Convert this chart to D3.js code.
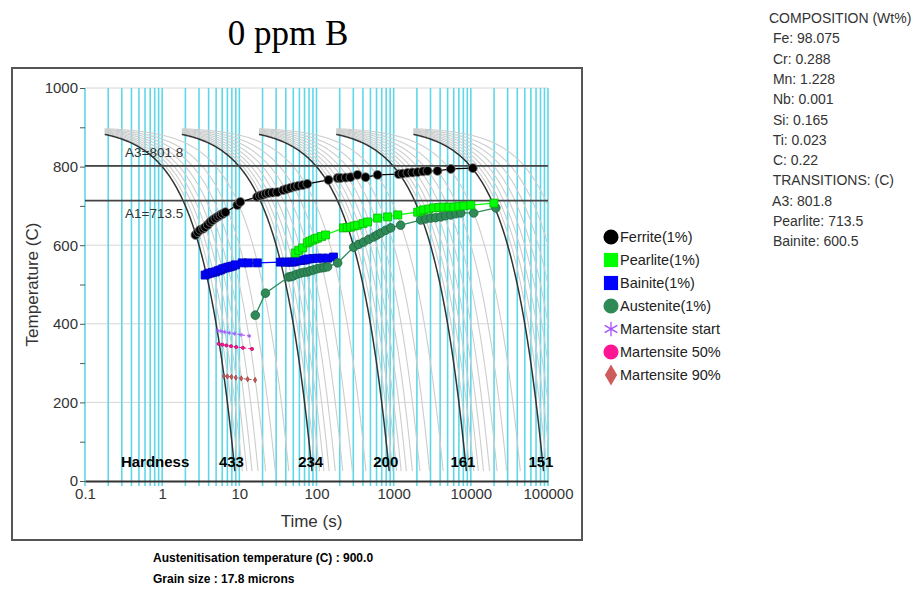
<!DOCTYPE html>
<html>
<head>
<meta charset="utf-8">
<script src="https://cdn.jsdelivr.net/npm/d3@7"></script>
<style>
  body { margin: 0; background: #fff; }
  svg { display: block; }
  text { font-family: "Liberation Sans", Arial, sans-serif; }
</style>
</head>
<body>
<div id="chart"></div>
<script>
// ---- data ----
const austTemp = 900;
const ambientTemp = 25;
const coolingRates = [100, 10, 1, 0.1, 0.01];          // bold curves, C/s
const rateSteps = [1, 0.9, 0.8, 0.7, 0.6, 0.5, 0.4, 0.3, 0.2];
const curveStartTimes = [0.18, 1.8, 18, 180, 1800];

const xTickLabels = [0.1, 1, 10, 100, 1000, 10000, 100000];
const yTickValues = [0, 100, 200, 300, 400, 500, 600, 700, 800, 900, 1000];

const a3Temp = 801.8;
const a1Temp = 713.5;

const ferriteTime = [2.7, 2.9, 3.1, 3.4, 3.6, 3.9, 4.2, 4.5, 4.9, 5.3, 5.7, 6.1, 6.6, 9.4, 10.3, 17, 18.5, 20, 22, 24, 27, 31, 37, 41, 46, 52, 58, 66, 76, 143, 188, 205, 240, 276, 340, 432, 619, 1160, 1300, 1510, 1750, 2040, 2400, 2750, 3700, 5500, 10600];
const ferriteTemp = [626, 633, 639, 642, 646, 652, 659, 664, 669, 673, 677, 680, 684, 702, 710, 723, 726, 728, 731, 733, 734, 735, 740, 743, 746, 749, 751, 753, 756, 766, 771, 771, 772, 773, 779, 773, 779, 781, 782, 784, 785, 786, 788, 789, 789, 794, 796];

const pearliteTime = [53, 59, 66, 76, 82, 89, 96, 103, 116, 131, 224, 250, 277, 310, 341, 400, 459, 619, 835, 1130, 2050, 2250, 2450, 2850, 3310, 3850, 4460, 5200, 6020, 7000, 8120, 10000, 19900];
const pearliteTemp = [580, 587, 593, 606, 610, 613, 616, 618, 622, 626, 644, 645, 646, 649, 651, 655, 659, 669, 672, 677, 684, 687, 690, 692, 695, 696, 697, 697, 697, 699, 700, 702, 707];

const bainiteTime = [3.6, 3.9, 4.2, 4.5, 4.9, 5.3, 5.7, 6.1, 6.6, 7.1, 7.6, 8.2, 8.9, 10.9, 13.1, 17.1, 34, 39.5, 44, 48.7, 52, 56.6, 62, 67.7, 73, 78.7, 90, 103, 120, 139, 166];
const bainiteTemp = [524, 527, 529, 531, 532, 535, 537, 540, 542, 544, 545, 547, 550, 555, 555, 555, 557, 557, 557, 557, 558, 560, 561, 562, 563, 565, 566, 567, 567, 567, 570];

const austeniteTime = [16.1, 21.8, 43.3, 46.5, 50.2, 55.5, 62, 69, 76.4, 83, 91.4, 102, 113, 125, 139, 188, 303, 350, 408, 475, 550, 610, 678, 790, 915, 1230, 2240, 2600, 3030, 3500, 4080, 4700, 5500, 6400, 7410, 10900, 21100];
const austeniteTemp = [422, 478, 519, 520, 522, 526, 529, 531, 532, 535, 537, 540, 542, 543, 545, 555, 595, 602, 608, 615, 621, 626, 631, 638, 644, 651, 664, 667, 669, 670, 672, 675, 677, 680, 682, 682, 695];

const msTime = [5.2, 5.8, 6.5, 7.4, 8.7, 10.5, 13.5];
const msTemp = [383, 381, 379, 377, 375, 372, 369];
const m50Time = [5.4, 6.0, 6.8, 7.8, 9.1, 11.1, 14.6];
const m50Temp = [349, 347, 345, 343, 341, 339, 336];
const m90Time = [6.3, 7.0, 7.9, 9.0, 10.6, 12.8, 16];
const m90Temp = [267, 266, 265, 263, 261, 259, 257];

const hardnessValues = ["433", "234", "200", "161", "151"];
const hardnessTimes = [7.9, 84, 790, 7900, 81000];

const legendLabels = ["Ferrite(1%)", "Pearlite(1%)", "Bainite(1%)", "Austenite(1%)", "Martensite start", "Martensite 50%", "Martensite 90%"];
const legendColors = ["#000000", "#00ff00", "#0000ff", "#2e8b57", "#a64dff", "#ff1493", "#cd5c5c"];
const legendShapes = ["circle", "square", "square", "circle", "asterisk", "circle", "diamond"];

const compositionLines = ["COMPOSITION (Wt%)", " Fe: 98.075", " Cr: 0.288", " Mn: 1.228", " Nb: 0.001", " Si: 0.165", " Ti: 0.023", " C: 0.22", " TRANSITIONS: (C)", " A3: 801.8", " Pearlite: 713.5", " Bainite: 600.5"];
const footerLines = ["Austenitisation temperature (C) : 900.0", "Grain size : 17.8 microns"];

// ---- layout ----
const W = 924, H = 590;
const margin = {top: 88, left: 85, right: 376, bottom: 109};
const plotW = W - margin.left - margin.right;
const plotH = H - margin.top - margin.bottom;

const svg = d3.select("#chart").append("svg")
    .attr("width", W)
    .attr("height", H);

svg.append("rect").attr("width", W).attr("height", H).attr("fill", "#fff");

svg.append("clipPath").attr("id", "plot-clip")
    .append("rect")
    .attr("x", margin.left).attr("y", margin.top - 2)
    .attr("width", plotW).attr("height", plotH + 2);

const x = d3.scaleLog()
    .domain([0.1, 100000])
    .range([margin.left, margin.left + plotW]);

const y = d3.scaleLinear()
    .domain([0, 1000])
    .range([margin.top + plotH, margin.top]);

// title
svg.append("text")
    .attr("x", 288).attr("y", 45)
    .attr("text-anchor", "middle")
    .style("font-family", "'Liberation Serif', 'Times New Roman', serif")
    .style("font-size", "35px")
    .text("0 ppm B");

// outer frame
svg.append("rect")
    .attr("x", 12).attr("y", 68)
    .attr("width", 570).attr("height", 472)
    .attr("fill", "none")
    .attr("stroke", "#555")
    .attr("stroke-width", 2);

// horizontal grid
svg.append("g").selectAll("line")
    .data(d3.range(200, 1001, 200))
    .enter().append("line")
    .attr("x1", x(0.1)).attr("x2", x(100000))
    .attr("y1", d => y(d)).attr("y2", d => y(d))
    .attr("stroke", "#d6d6d6")
    .attr("stroke-width", 1);

// cyan log grid
svg.append("g").selectAll("line")
    .data(x.ticks())
    .enter().append("line")
    .attr("x1", d => x(d)).attr("x2", d => x(d))
    .attr("y1", y(1000)).attr("y2", y(0) + 5)
    .attr("stroke", "#5ed8e8")
    .attr("stroke-width", 1.6);

// cooling curves
const curveLine = d3.line()
    .x(d => x(d[0]))
    .y(d => y(d[1]));

const curves = [];
coolingRates.forEach((R, i) => {
    rateSteps.forEach(f => {
        const r = R * f;
        const t0 = curveStartTimes[i];
        const t1 = (austTemp - ambientTemp) / r;
        const pts = d3.range(0, 201).map(k => {
            const t = t0 * Math.pow(t1 / t0, k / 200);
            return [t, austTemp - r * t];
        });
        curves.push({pts: pts, bold: f === 1});
    });
});

const curveG = svg.append("g").attr("clip-path", "url(#plot-clip)");

curveG.selectAll("path.thin")
    .data(curves.filter(c => !c.bold))
    .enter().append("path")
    .attr("d", d => curveLine(d.pts))
    .attr("fill", "none")
    .attr("stroke", "#cdcdcd")
    .attr("stroke-width", 1.1);

curveG.selectAll("path.bold")
    .data(curves.filter(c => c.bold))
    .enter().append("path")
    .attr("d", d => curveLine(d.pts))
    .attr("fill", "none")
    .attr("stroke", "#333")
    .attr("stroke-width", 1.5);

// A3 / A1
[a3Temp, a1Temp].forEach(T => {
    svg.append("line")
        .attr("x1", x(0.1)).attr("x2", x(100000))
        .attr("y1", y(T)).attr("y2", y(T))
        .attr("stroke", "#444")
        .attr("stroke-width", 1.6);
});
svg.append("text").attr("x", 125).attr("y", y(a3Temp) - 9)
    .style("font-size", "13.5px").attr("fill", "#333").text("A3=801.8");
svg.append("text").attr("x", 125).attr("y", y(a1Temp) + 17)
    .style("font-size", "13.5px").attr("fill", "#333").text("A1=713.5");

// transformation series
const zipSeries = (ts, Ts) => ts.map((t, i) => [t, Ts[i]]);

function drawSeries(data, color, shape, size, dashed) {
    const g = svg.append("g");
    g.append("path")
        .attr("d", curveLine(data))
        .attr("fill", "none")
        .attr("stroke", color)
        .attr("stroke-width", dashed ? 1 : 1.3)
        .attr("stroke-dasharray", dashed ? "3,2" : null);
    const sym = d3.symbol().size(size);
    if (shape === "circle") sym.type(d3.symbolCircle);
    if (shape === "square") sym.type(d3.symbolSquare);
    if (shape === "diamond") sym.type(d3.symbolDiamond);
    if (shape === "asterisk") sym.type(d3.symbolAsterisk);
    g.selectAll("path.m")
        .data(data)
        .enter().append("path")
        .attr("class", "m")
        .attr("transform", d => "translate(" + x(d[0]) + "," + y(d[1]) + ")")
        .attr("d", sym)
        .attr("fill", shape === "asterisk" ? "none" : color)
        .attr("stroke", shape === "asterisk" ? color : (color === "#000000" ? "#777" : d3.color(color).darker(0.9)))
        .attr("stroke-width", 0.8);
}

drawSeries(zipSeries(bainiteTime, bainiteTemp), legendColors[2], "square", 64);
drawSeries(zipSeries(austeniteTime, austeniteTemp), legendColors[3], "circle", 58);
drawSeries(zipSeries(pearliteTime, pearliteTemp), legendColors[1], "square", 64);
drawSeries(zipSeries(ferriteTime, ferriteTemp), legendColors[0], "circle", 62);
drawSeries(zipSeries(msTime, msTemp), legendColors[4], "asterisk", 12, true);
drawSeries(zipSeries(m50Time, m50Temp), legendColors[5], "circle", 8, true);
drawSeries(zipSeries(m90Time, m90Temp), legendColors[6], "diamond", 8, true);

// hardness
svg.append("text")
    .attr("x", x(0.81)).attr("y", y(36))
    .attr("text-anchor", "middle")
    .style("font-size", "15px").style("font-weight", "bold")
    .text("Hardness");
svg.append("g").selectAll("text")
    .data(hardnessValues)
    .enter().append("text")
    .attr("x", (d, i) => x(hardnessTimes[i]))
    .attr("y", y(36))
    .attr("text-anchor", "middle")
    .style("font-size", "15px").style("font-weight", "bold")
    .text(d => d);

// axes
const yAxis = d3.axisLeft(y)
    .tickValues(yTickValues)
    .tickFormat(d => d % 200 === 0 ? d : "")
    .tickSize(5)
    .tickPadding(2);
const gy = svg.append("g")
    .attr("transform", "translate(" + margin.left + ",0)")
    .call(yAxis);
gy.select(".domain").remove();
gy.selectAll("line").attr("stroke", "#555");
gy.selectAll("text").style("font-size", "15px").attr("fill", "#333")
    .style("font-family", "'Liberation Sans', Arial, sans-serif");

const xAxis = d3.axisBottom(x)
    .tickValues(xTickLabels)
    .tickFormat(d => String(d))
    .tickSize(0)
    .tickPadding(7);
const gx = svg.append("g")
    .attr("transform", "translate(0," + y(0) + ")")
    .call(xAxis);
gx.select(".domain").attr("stroke", "#333").attr("stroke-width", 2);
gx.selectAll("text").style("font-size", "15px").attr("fill", "#333")
    .style("font-family", "'Liberation Sans', Arial, sans-serif");

svg.append("text")
    .attr("x", x(100) - 5).attr("y", 527)
    .attr("text-anchor", "middle")
    .style("font-size", "17px").attr("fill", "#333")
    .text("Time (s)");
svg.append("text")
    .attr("transform", "translate(38," + y(500) + ") rotate(-90)")
    .attr("text-anchor", "middle")
    .style("font-size", "17px").attr("fill", "#333")
    .text("Temperature (C)");

// legend
const legend = svg.append("g").attr("transform", "translate(611,237)");
const legendSym = (shape) => {
    const s = d3.symbol();
    if (shape === "circle") return s.type(d3.symbolCircle).size(180)();
    if (shape === "square") return s.type(d3.symbolSquare).size(200)();
    if (shape === "diamond") return s.type(d3.symbolDiamond).size(130)();
    return s.type(d3.symbolAsterisk).size(150)();
};
const items = legend.selectAll("g")
    .data(legendLabels)
    .enter().append("g")
    .attr("transform", (d, i) => "translate(0," + i * 23 + ")");
items.append("path")
    .attr("d", (d, i) => legendSym(legendShapes[i]))
    .attr("fill", (d, i) => legendShapes[i] === "asterisk" ? "none" : legendColors[i])
    .attr("stroke", (d, i) => legendShapes[i] === "asterisk" ? legendColors[i] : "none")
    .attr("stroke-width", 1.3);
items.append("text")
    .attr("x", 9).attr("dy", "0.36em")
    .style("font-size", "14.5px").attr("fill", "#222")
    .text(d => d);

// composition block
svg.append("g").selectAll("text")
    .data(compositionLines)
    .enter().append("text")
    .attr("x", 769)
    .attr("y", (d, i) => 23 + i * 20.3)
    .attr("xml:space", "preserve")
    .style("white-space", "pre")
    .style("font-size", "14px").attr("fill", "#333")
    .text(d => d);

// footer
svg.append("g").selectAll("text")
    .data(footerLines)
    .enter().append("text")
    .attr("x", 153)
    .attr("y", (d, i) => 562 + i * 21)
    .style("font-size", "12px").style("font-weight", "bold")
    .text(d => d);
</script>
</body>
</html>
